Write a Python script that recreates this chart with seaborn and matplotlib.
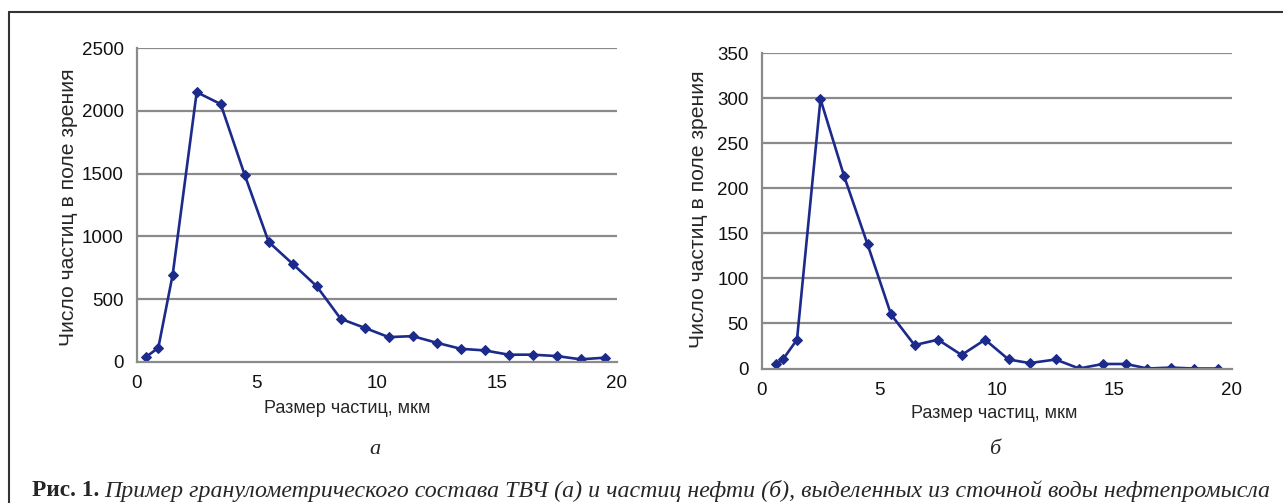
import matplotlib
matplotlib.use("Agg")
import matplotlib.pyplot as plt
import matplotlib.lines as mlines
import pandas as pd
import seaborn as sns

# panel "а": solid particles
size_a = [0.4, 0.9, 1.5, 2.5, 3.5, 4.5, 5.5, 6.5, 7.5, 8.5, 9.5, 10.5,
          11.5, 12.5, 13.5, 14.5, 15.5, 16.5, 17.5, 18.5, 19.5]
count_a = [40, 110, 695, 2150, 2055, 1490, 955, 780, 602, 342, 270, 196,
           204, 151, 103, 90, 56, 56, 45, 19, 32]

# panel "б": oil particles
size_b = [0.6, 0.9, 1.5, 2.5, 3.5, 4.5, 5.5, 6.5, 7.5, 8.5, 9.5, 10.5,
          11.4, 12.5, 13.5, 14.5, 15.5, 16.4, 17.4, 18.4, 19.4]
count_b = [5, 10, 32, 299, 214, 138, 60, 26, 32, 15, 32, 10,
           6, 10, 0, 5, 5, 0, 1, 0, 0]

x_label = "Размер частиц, мкм"
y_label = "Число частиц в поле зрения"
yticks_a = [0, 500, 1000, 1500, 2000, 2500]
yticks_b = [0, 50, 100, 150, 200, 250, 300, 350]
xticks = [0, 5, 10, 15, 20]

sns.set_style("white")
plt.rcParams["font.family"] = ["Liberation Sans", "DejaVu Sans"]

W, H = 1283, 503
fig = plt.figure(figsize=(W / 100, H / 100), dpi=100)

line_color = "#1c2a8c"
grid_color = "#8a8a8a"


def px_axes(x0, x1, ytop, ybot):
    return fig.add_axes([x0 / W, (H - ybot) / H, (x1 - x0) / W, (ybot - ytop) / H])


def draw_panel(ax, xs, ys, yticks, ymax, xlab_pos, ylab_pos):
    df = pd.DataFrame({"x": xs, "y": ys})
    sns.lineplot(data=df, x="x", y="y", ax=ax, color=line_color, lw=1.9,
                 marker="D", markersize=5.5, markeredgecolor=line_color)
    ax.set_xlim(0, 20)
    ax.set_ylim(0, ymax)
    ax.set_xticks(xticks)
    ax.set_xticks(range(0, 21), minor=True)
    ax.set_yticks(yticks)
    for v in yticks[1:]:
        ax.axhline(v, color=grid_color, lw=1.6, zorder=0)
    for s in ["top", "right"]:
        ax.spines[s].set_visible(False)
    for s in ["left", "bottom"]:
        ax.spines[s].set_color(grid_color)
        ax.spines[s].set_linewidth(1.6)
    ax.tick_params(axis="both", which="both", direction="out", color=grid_color,
                   width=1.2, labelsize=13.5, labelcolor="#111111")
    ax.tick_params(axis="both", which="major", length=6)
    ax.tick_params(axis="x", which="minor", length=5)
    ax.set_xlabel(x_label, fontsize=13)
    ax.set_ylabel(y_label, fontsize=15.2)
    ax.xaxis.set_label_coords(*xlab_pos)
    ax.yaxis.set_label_coords(*ylab_pos)


ax_a = px_axes(136.7, 616.7, 48.3, 361.7)
draw_panel(ax_a, size_a, count_a, yticks_a, 2500, (0.438, -0.122), (-0.122, 0.494))

ax_b = px_axes(761.7, 1232, 53.3, 368.5)
draw_panel(ax_b, size_b, count_b, yticks_b, 350, (0.494, -0.116), (-0.114, 0.506))

# panel letters
fig.text(375 / W, 1 - 449 / H, "а", ha="center", va="center",
         family="Liberation Serif", style="italic", fontsize=16)
fig.text(995 / W, 1 - 449 / H, "б", ha="center", va="center",
         family="Liberation Serif", style="italic", fontsize=16)

# caption
cap = fig.text(32 / W, 1 - 491 / H, "Рис. 1.", ha="left", va="center",
               family="Liberation Serif", weight="bold", fontsize=16.8)
fig.canvas.draw()
bb = cap.get_window_extent()
fig.text((bb.x1 + 5) / W, 1 - 491 / H,
         "Пример гранулометрического состава ТВЧ (а) и частиц нефти (б), "
         "выделенных из сточной воды нефтепромысла",
         ha="left", va="center", family="Liberation Serif", style="italic",
         fontsize=17.2)

# frame
fig.add_artist(mlines.Line2D([9 / W, 1], [1 - 12 / H, 1 - 12 / H],
                             transform=fig.transFigure, color="#333333", lw=1.5))
fig.add_artist(mlines.Line2D([9 / W, 9 / W], [1 - 12 / H, 0],
                             transform=fig.transFigure, color="#333333", lw=1.5))

fig.savefig("out.png", dpi=100)
